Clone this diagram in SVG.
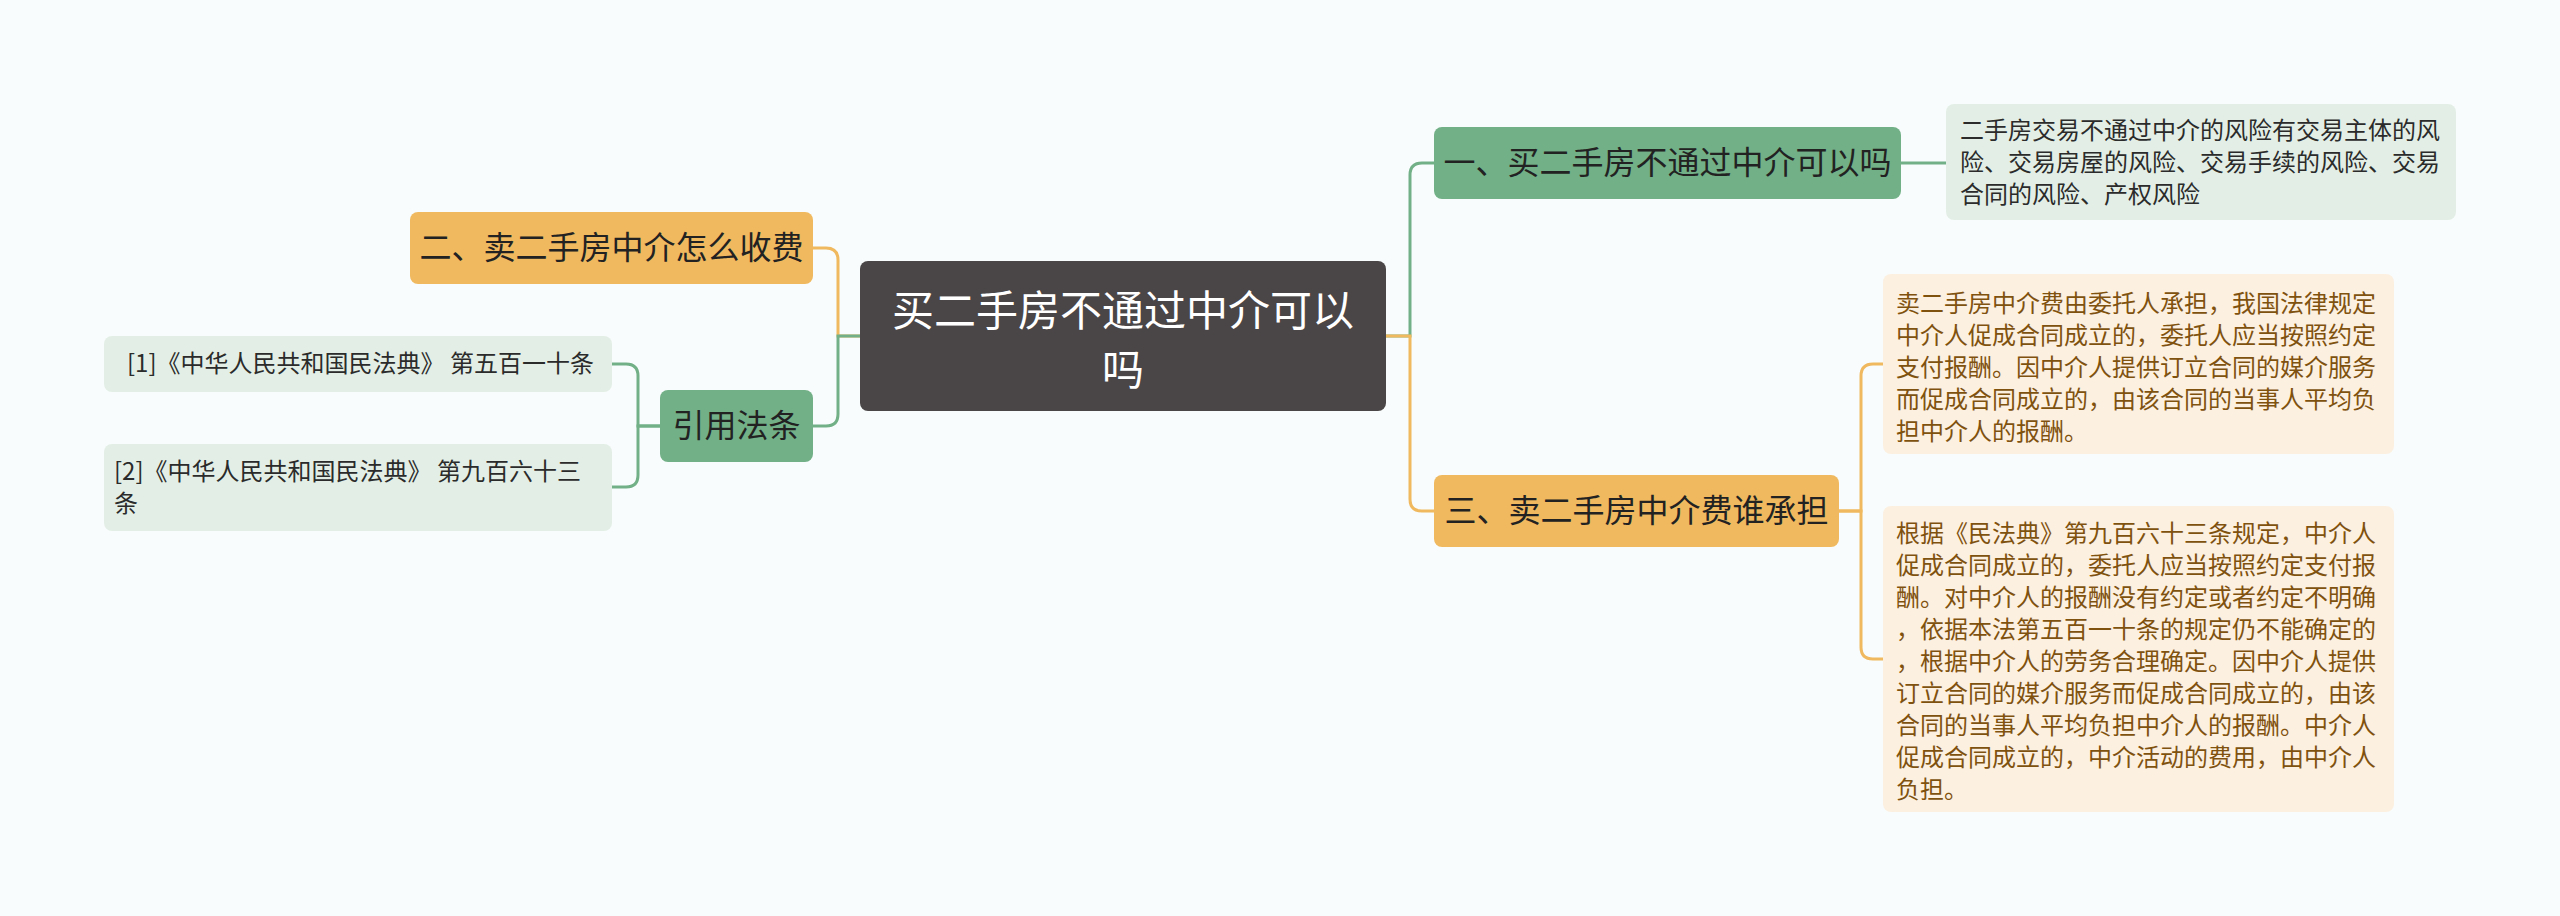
<svg xmlns="http://www.w3.org/2000/svg" width="2560" height="916" viewBox="0 0 2560 916">
<style>
text{font-family:"Noto Sans CJK SC","Noto Sans",sans-serif;}
.root{fill:#4a4546;}
.g1{fill:#72b087;}
.o1{fill:#f0b95f;}
.gl{fill:#e3efe6;}
.ol{fill:#fcf0e1;}
.t0{fill:#ffffff;font-size:42px;text-anchor:middle;}
.t1{fill:#222222;font-size:32px;text-anchor:middle;}
.tg{fill:#2b2b2b;font-size:24px;}
.to{fill:#80520f;font-size:24px;}
.cg{fill:none;stroke:#72b087;stroke-width:3;}
.co{fill:none;stroke:#f0b95f;stroke-width:3;}
</style>
<rect width="2560" height="916" fill="#f8fcfc"/>
<g id="connectors">
<path class="cg" d="M1386 336 H1410 V175 Q1410 163 1422 163 H1434"/>
<path class="co" d="M1386 336 H1410 V499 Q1410 511 1422 511 H1434"/>
<path class="co" d="M860 336 H838 V260 Q838 248 826 248 H813"/>
<path class="cg" d="M860 336 H838 V414 Q838 426 826 426 H813"/>
<path class="cg" d="M660 426 H638 V376 Q638 364 626 364 H612"/>
<path class="cg" d="M660 426 H638 V475 Q638 487 626 487 H612"/>
<path class="cg" d="M1901 163 H1946"/>
<path class="co" d="M1839 511 H1861 V376 Q1861 364 1873 364 H1883"/>
<path class="co" d="M1839 511 H1861 V647 Q1861 659 1873 659 H1883"/>
</g>
<g id="root">
<rect class="root" x="860" y="261" width="526" height="150" rx="8"/>
<text class="t0" x="1123" y="326">买二手房不通过中介可以</text>
<text class="t0" x="1123" y="385">吗</text>
</g>
<g id="n1">
<rect class="g1" x="1434" y="127" width="467" height="72" rx="8"/>
<text class="t1" x="1667.5" y="174">一、买二手房不通过中介可以吗</text>
</g>
<g id="n1-leaf">
<rect class="gl" x="1946" y="104" width="510" height="116" rx="8"/>
<text class="tg" x="1960" y="139">二手房交易不通过中介的风险有交易主体的风</text>
<text class="tg" x="1960" y="171">险、交易房屋的风险、交易手续的风险、交易</text>
<text class="tg" x="1960" y="203">合同的风险、产权风险</text>
</g>
<g id="n2">
<rect class="o1" x="410" y="212" width="403" height="72" rx="8"/>
<text class="t1" x="611.5" y="259">二、卖二手房中介怎么收费</text>
</g>
<g id="n4">
<rect class="g1" x="660" y="390" width="153" height="72" rx="8"/>
<text class="t1" x="736.5" y="437">引用法条</text>
</g>
<g id="n4-leaf1">
<rect class="gl" x="104" y="336" width="508" height="56" rx="8"/>
<text class="tg" x="127" y="372">[1]《中华人民共和国民法典》 第五百一十条</text>
</g>
<g id="n4-leaf2">
<rect class="gl" x="104" y="444" width="508" height="87" rx="8"/>
<text class="tg" x="114" y="480">[2]《中华人民共和国民法典》 第九百六十三</text>
<text class="tg" x="114" y="512">条</text>
</g>
<g id="n3">
<rect class="o1" x="1434" y="475" width="405" height="72" rx="8"/>
<text class="t1" x="1636.5" y="522">三、卖二手房中介费谁承担</text>
</g>
<g id="n3-leaf1">
<rect class="ol" x="1883" y="274" width="511" height="180" rx="8"/>
<text class="to" x="1896" y="312">卖二手房中介费由委托人承担，我国法律规定</text>
<text class="to" x="1896" y="344">中介人促成合同成立的，委托人应当按照约定</text>
<text class="to" x="1896" y="376">支付报酬。因中介人提供订立合同的媒介服务</text>
<text class="to" x="1896" y="408">而促成合同成立的，由该合同的当事人平均负</text>
<text class="to" x="1896" y="440">担中介人的报酬。</text>
</g>
<g id="n3-leaf2">
<rect class="ol" x="1883" y="506" width="511" height="306" rx="8"/>
<text class="to" x="1896" y="542">根据《民法典》第九百六十三条规定，中介人</text>
<text class="to" x="1896" y="574">促成合同成立的，委托人应当按照约定支付报</text>
<text class="to" x="1896" y="606">酬。对中介人的报酬没有约定或者约定不明确</text>
<text class="to" x="1896" y="638">，依据本法第五百一十条的规定仍不能确定的</text>
<text class="to" x="1896" y="670">，根据中介人的劳务合理确定。因中介人提供</text>
<text class="to" x="1896" y="702">订立合同的媒介服务而促成合同成立的，由该</text>
<text class="to" x="1896" y="734">合同的当事人平均负担中介人的报酬。中介人</text>
<text class="to" x="1896" y="766">促成合同成立的，中介活动的费用，由中介人</text>
<text class="to" x="1896" y="798">负担。</text>
</g>
</svg>
